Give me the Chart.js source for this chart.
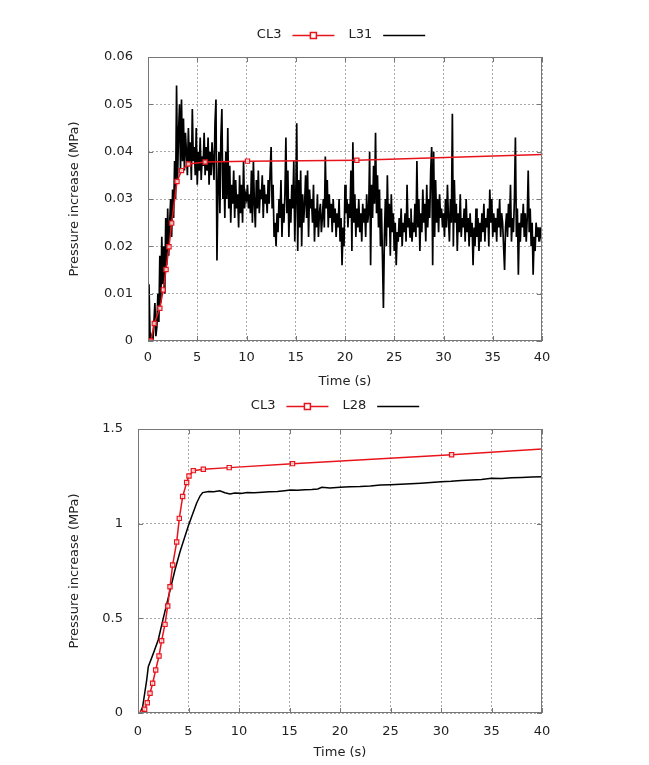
<!DOCTYPE html>
<html>
<head>
<meta charset="utf-8">
<script src="https://cdn.jsdelivr.net/npm/chart.js@4.4.1/dist/chart.umd.min.js"></script>
<style>
  html, body { margin: 0; padding: 0; background: #fff; }
  .box { position: absolute; left: 0; width: 649px; }
  #topBox { top: 0; height: 390px; }
  #bottomBox { top: 390px; height: 375px; }
</style>
</head>
<body>
<div class="box" id="topBox"><canvas id="topChart"></canvas></div>
<div class="box" id="bottomBox"><canvas id="bottomChart"></canvas></div>
<script>
// ===== top plot: CL3 / L31 =====
const cl3TopTime = [0, 0.3, 0.64, 1.2, 1.55, 1.83, 2.13, 2.4, 2.94, 3.4, 4.1, 5.8, 10.1, 21.2, 40];
const cl3TopPressure = [0, 0, 0.0037, 0.0069, 0.0108, 0.0151, 0.0199, 0.0249, 0.0337, 0.036, 0.0374, 0.0378, 0.038, 0.0382, 0.0394];

const l31Step = 0.1; // sampling step (s)
const l31Pressure = [
  0.000, 0.012, 0.002, 0.000, 0.001, 0.000, 0.004, 0.008, 0.001, 0.003, 0.010, 0.004, 0.018, 0.008, 0.022, 0.012, 0.020, 0.010, 0.026, 0.016,
  0.028, 0.018, 0.025, 0.030, 0.022, 0.032, 0.026, 0.038, 0.030, 0.054, 0.034, 0.044, 0.050, 0.036, 0.051, 0.038, 0.047, 0.036, 0.044, 0.040,
  0.035, 0.045, 0.037, 0.042, 0.034, 0.049, 0.038, 0.041, 0.035, 0.045, 0.033, 0.040, 0.036, 0.043, 0.034, 0.039, 0.037, 0.044, 0.035, 0.041,
  0.036, 0.043, 0.033, 0.040, 0.035, 0.042, 0.038, 0.034, 0.046, 0.051, 0.017, 0.032, 0.040, 0.027, 0.043, 0.049, 0.030, 0.038, 0.026, 0.040,
  0.030, 0.045, 0.028, 0.037, 0.025, 0.033, 0.029, 0.036, 0.026, 0.034, 0.028, 0.031, 0.024, 0.035, 0.027, 0.033, 0.025, 0.038, 0.028, 0.031,
  0.030, 0.033, 0.028, 0.031, 0.027, 0.036, 0.025, 0.038, 0.029, 0.024, 0.034, 0.028, 0.036, 0.027, 0.032, 0.030, 0.035, 0.026, 0.033, 0.029,
  0.031, 0.027, 0.034, 0.029, 0.036, 0.041, 0.028, 0.033, 0.022, 0.025, 0.020, 0.027, 0.023, 0.030, 0.026, 0.034, 0.022, 0.029, 0.025, 0.031,
  0.043, 0.027, 0.036, 0.022, 0.030, 0.025, 0.033, 0.028, 0.038, 0.021, 0.030, 0.046, 0.019, 0.034, 0.024, 0.036, 0.020, 0.031, 0.025, 0.029,
  0.035, 0.026, 0.036, 0.022, 0.032, 0.028, 0.030, 0.025, 0.033, 0.021, 0.028, 0.024, 0.031, 0.022, 0.027, 0.029, 0.023, 0.026, 0.030, 0.024,
  0.039, 0.028, 0.034, 0.024, 0.031, 0.026, 0.029, 0.023, 0.030, 0.025, 0.028, 0.022, 0.027, 0.024, 0.030, 0.021, 0.026, 0.016, 0.024, 0.020,
  0.033, 0.027, 0.030, 0.024, 0.029, 0.026, 0.036, 0.019, 0.042, 0.025, 0.031, 0.022, 0.028, 0.024, 0.030, 0.023, 0.027, 0.021, 0.029, 0.025,
  0.028, 0.022, 0.031, 0.025, 0.027, 0.040, 0.016, 0.033, 0.026, 0.037, 0.029, 0.044, 0.027, 0.035, 0.024, 0.032, 0.020, 0.028, 0.018, 0.007,
  0.022, 0.030, 0.020, 0.035, 0.024, 0.029, 0.018, 0.031, 0.023, 0.027, 0.019, 0.025, 0.016, 0.023, 0.021, 0.026, 0.022, 0.028, 0.020, 0.025,
  0.023, 0.027, 0.021, 0.033, 0.024, 0.026, 0.022, 0.028, 0.021, 0.025, 0.023, 0.029, 0.022, 0.038, 0.024, 0.030, 0.019, 0.027, 0.023, 0.032,
  0.025, 0.029, 0.021, 0.033, 0.024, 0.030, 0.026, 0.036, 0.041, 0.016, 0.040, 0.022, 0.034, 0.025, 0.030, 0.023, 0.031, 0.026, 0.028, 0.024,
  0.027, 0.022, 0.030, 0.024, 0.033, 0.026, 0.021, 0.030, 0.025, 0.048, 0.020, 0.034, 0.025, 0.029, 0.019, 0.027, 0.023, 0.031, 0.022, 0.026,
  0.024, 0.028, 0.021, 0.030, 0.023, 0.026, 0.020, 0.027, 0.022, 0.025, 0.016, 0.024, 0.020, 0.028, 0.022, 0.026, 0.019, 0.025, 0.021, 0.027,
  0.023, 0.029, 0.021, 0.026, 0.024, 0.028, 0.020, 0.032, 0.025, 0.030, 0.022, 0.027, 0.023, 0.026, 0.021, 0.028, 0.024, 0.030, 0.022, 0.027,
  0.025, 0.020, 0.015, 0.024, 0.027, 0.022, 0.029, 0.024, 0.033, 0.021, 0.026, 0.023, 0.030, 0.043, 0.022, 0.028, 0.014, 0.025, 0.021, 0.027,
  0.024, 0.029, 0.022, 0.027, 0.021, 0.026, 0.036, 0.023, 0.028, 0.020, 0.025, 0.014, 0.022, 0.019, 0.025, 0.022, 0.024, 0.021, 0.024, 0.022,
  0.023
];

// ===== bottom plot: CL3 / L28 =====
const cl3BottomTime = [0.45, 0.66, 0.92, 1.19, 1.45, 1.75, 2.08, 2.34, 2.67, 2.94, 3.17, 3.43, 3.83, 4.09, 4.42, 4.82, 5.05, 5.48, 6.47, 9.03, 15.3, 31.05, 40];
const cl3BottomPressure = [0, 0.02, 0.054, 0.104, 0.157, 0.227, 0.301, 0.382, 0.468, 0.565, 0.667, 0.782, 0.903, 1.028, 1.143, 1.217, 1.252, 1.28, 1.287, 1.296, 1.317, 1.364, 1.394];

const l28Time = [0, 0.2, 0.46, 0.86, 1.02, 1.52, 2.0, 2.5, 3.1, 3.66, 4.16, 4.98, 5.31, 5.8, 6.14, 6.4, 7.0, 7.5, 8.1, 8.6, 9.1, 9.6, 10.2, 10.8, 11.5, 12.3, 13.0, 13.8, 14.5, 15.1, 15.8, 16.5, 17.2, 17.8, 18.2, 19.0, 20, 21, 22, 23, 24, 25, 26, 27, 28, 29, 30, 31, 32, 33, 34, 35, 36, 37, 38, 39, 40];
const l28Pressure = [0, 0, 0.033, 0.174, 0.245, 0.315, 0.386, 0.5, 0.632, 0.755, 0.852, 0.988, 1.037, 1.108, 1.146, 1.164, 1.170, 1.168, 1.174, 1.163, 1.157, 1.162, 1.160, 1.164, 1.163, 1.166, 1.168, 1.170, 1.174, 1.178, 1.176, 1.179, 1.180, 1.183, 1.192, 1.189, 1.192, 1.195, 1.196, 1.199, 1.204, 1.206, 1.208, 1.211, 1.214, 1.218, 1.222, 1.224, 1.228, 1.230, 1.233, 1.240, 1.238, 1.242, 1.244, 1.246, 1.248];

const xTicks = [0, 5, 10, 15, 20, 25, 30, 35, 40];

Chart.defaults.font.family = '"DejaVu Sans", sans-serif';
Chart.defaults.font.size = 13;
Chart.defaults.color = '#222';

const toXY = (xs, ys) => ys.map((v, i) => ({ x: xs[i], y: v }));

// gnuplot-like frame with inward tick marks
const gnuFrame = {
  id: 'gnuFrame',
  afterDraw(chart) {
    const { ctx, chartArea: a, scales: { x, y } } = chart;
    ctx.save();
    ctx.strokeStyle = '#777';
    ctx.lineWidth = 1;
    ctx.beginPath();
    x.ticks.forEach(t => {
      const px = Math.round(x.getPixelForValue(t.value)) + 0.5;
      ctx.moveTo(px, a.bottom); ctx.lineTo(px, a.bottom - 5);
      ctx.moveTo(px, a.top); ctx.lineTo(px, a.top + 5);
    });
    y.ticks.forEach(t => {
      const py = Math.round(y.getPixelForValue(t.value)) + 0.5;
      ctx.moveTo(a.left, py); ctx.lineTo(a.left + 5, py);
      ctx.moveTo(a.right, py); ctx.lineTo(a.right - 5, py);
    });
    ctx.stroke();
    ctx.strokeRect(Math.round(a.left) + 0.5, Math.round(a.top) + 0.5, Math.round(a.right - a.left) - 1, Math.round(a.bottom - a.top) - 1);
    ctx.restore();
  }
};

// key: text first, then line sample (gnuplot style)
const gnuLegend = {
  id: 'gnuLegend',
  afterDraw(chart, args, opts) {
    const { ctx } = chart;
    ctx.save();
    ctx.font = '13px "DejaVu Sans", sans-serif';
    ctx.textBaseline = 'middle';
    ctx.fillStyle = '#222';
    const sample = 42, gapText = 11, gapItem = 14;
    const items = chart.data.datasets.map(ds => ({ ds, w: ctx.measureText(ds.label).width }));
    const total = items.reduce((s, it) => s + it.w + gapText + sample, 0) + gapItem * (items.length - 1);
    let cx = opts.centerX - total / 2;
    items.forEach(({ ds, w }) => {
      ctx.fillText(ds.label, cx, opts.y);
      cx += w + gapText;
      ctx.strokeStyle = ds.borderColor;
      ctx.lineWidth = 1.5;
      ctx.beginPath();
      ctx.moveTo(cx, opts.y + 0.5);
      ctx.lineTo(cx + sample, opts.y + 0.5);
      ctx.stroke();
      if (ds.legendMarker) {
        ctx.fillStyle = '#fff';
        ctx.fillRect(cx + sample / 2 - 3, opts.y - 2.5, 6, 6);
        ctx.strokeRect(cx + sample / 2 - 3, opts.y - 2.5, 6, 6);
        ctx.fillStyle = '#222';
      }
      cx += sample + gapItem;
    });
    ctx.restore();
  }
};

const makeChart = (canvasId, datasets, cfg) => {
  new Chart(document.getElementById(canvasId), {
    type: 'line',
    data: { datasets },
    options: {
      responsive: true,
      maintainAspectRatio: false,
      animation: false,
      layout: { padding: { top: cfg.padTop, right: 107, left: 0, bottom: 0 } },
      elements: { line: { tension: 0 } },
      plugins: {
        legend: { display: false },
        tooltip: { enabled: false },
        gnuLegend: { centerX: cfg.legendX, y: cfg.legendY }
      },
      scales: {
        x: {
          type: 'linear', min: 0, max: 40,
          afterBuildTicks: s => { s.ticks = xTicks.map(v => ({ value: v })); },
          afterFit: s => { s.height = cfg.xHeight; },
          grid: { color: '#aaa', drawTicks: false },
          border: { display: false, dash: [2, 2] },
          ticks: { padding: cfg.xPad, callback: v => String(v) },
          title: { display: true, text: 'Time (s)', padding: { top: 0, bottom: cfg.xTitlePad } }
        },
        y: {
          type: 'linear', min: 0, max: cfg.yMax,
          afterFit: s => { s.width = cfg.yWidth; },
          grid: { color: '#aaa', drawTicks: false },
          border: { display: false, dash: [2, 2] },
          ticks: { stepSize: cfg.yStep, padding: 15, callback: v => String(+v.toFixed(2)) },
          title: { display: true, text: 'Pressure increase (MPa)', padding: { top: 67, bottom: 0 } }
        }
      }
    },
    plugins: [gnuFrame, gnuLegend]
  });
};

const markerStyle = {
  borderColor: '#e8141c',
  borderWidth: 1.5,
  pointStyle: 'rect',
  pointRadius: 3,
  pointBorderWidth: 1.2,
  pointBackgroundColor: 'rgba(255,255,255,0.7)',
  pointBorderColor: '#e8141c',
  legendMarker: true
};

makeChart('topChart', [
  {
    label: 'CL3',
    data: toXY(cl3TopTime, cl3TopPressure),
    ...markerStyle,
    pointRadius: ctx => (ctx.dataIndex === cl3TopTime.length - 1 ? 0 : 3)
  },
  {
    label: 'L31',
    data: l31Pressure.map((v, i) => ({ x: i * l31Step, y: v })),
    borderColor: '#000',
    borderWidth: 1.7,
    pointRadius: 0
  }
], { padTop: 57, xHeight: 49, yWidth: 148, yMax: 0.06, yStep: 0.01, xPad: 9, xTitlePad: 1, legendX: 341, legendY: 35 });

makeChart('bottomChart', [
  {
    label: 'CL3',
    data: toXY(cl3BottomTime, cl3BottomPressure),
    ...markerStyle,
    pointRadius: ctx => (ctx.dataIndex === cl3BottomTime.length - 1 ? 0 : 3)
  },
  {
    label: 'L28',
    data: toXY(l28Time, l28Pressure),
    borderColor: '#000',
    borderWidth: 1.5,
    pointRadius: 0
  }
], { padTop: 39, xHeight: 52, yWidth: 138, yMax: 1.5, yStep: 0.5, xPad: 11, xTitlePad: 5, legendX: 335, legendY: 16 });
</script>
</body>
</html>
